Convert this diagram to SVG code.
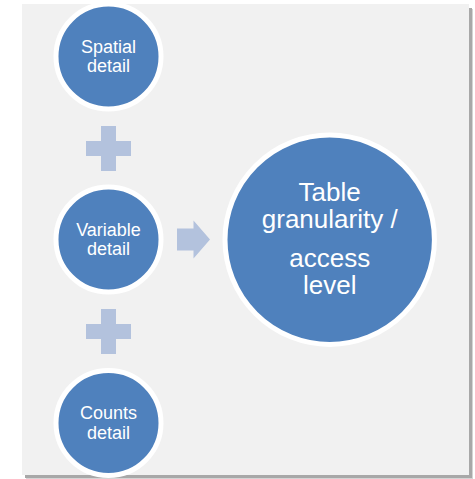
<svg xmlns="http://www.w3.org/2000/svg" width="475" height="479" viewBox="0 0 475 479">
  <style>
    .node circle { fill: #4F81BD; stroke: #FFFFFF; stroke-width: 5; }
    .label { fill: #FFFFFF; font-family: "Liberation Sans", Arial, sans-serif; text-anchor: middle; }
    .small { font-size: 18px; }
    .big { font-size: 26px; }
    .link { fill: #B3C2DD; }
  </style>
  <rect width="475" height="479" fill="#FFFFFF"/>
  <!-- panel with soft drop shadow -->
  <rect x="26" y="9" width="447" height="470" fill="#D4D4D4"/>
  <rect x="25" y="8" width="447" height="470" fill="#A8A8A8"/>
  <rect x="22" y="4" width="447" height="471" fill="#F1F1F1"/>

  <g id="connectors">
    <path class="link" d="M101,126 h15 v15 h15 v15 h-15 v15 h-15 v-15 h-15 v-15 h15 z"/>
    <path class="link" d="M101,309 h15 v15 h15 v15 h-15 v15 h-15 v-15 h-15 v-15 h15 z"/>
    <path class="link" d="M177,228.5 h16.5 v-8 l16.5,19 l-16.5,19 v-8 h-16.5 z"/>
  </g>

  <g id="spatial" class="node">
    <circle cx="108.5" cy="56.5" r="52.5"/>
    <text class="label small" x="108.5" y="53">Spatial</text>
    <text class="label small" x="108.5" y="72">detail</text>
  </g>
  <g id="variable" class="node">
    <circle cx="108.5" cy="239.5" r="52.5"/>
    <text class="label small" x="108.5" y="236">Variable</text>
    <text class="label small" x="108.5" y="255">detail</text>
  </g>
  <g id="counts" class="node">
    <circle cx="108.5" cy="423" r="52.5"/>
    <text class="label small" x="108.5" y="419">Counts</text>
    <text class="label small" x="108.5" y="439">detail</text>
  </g>
  <g id="table" class="node">
    <circle cx="329.7" cy="239.7" r="104.7"/>
    <text class="label big" x="329.7" y="200.5">Table</text>
    <text class="label big" x="329.7" y="228.3">granularity /</text>
    <text class="label big" x="329.7" y="266.7">access</text>
    <text class="label big" x="329.7" y="294">level</text>
  </g>
</svg>
